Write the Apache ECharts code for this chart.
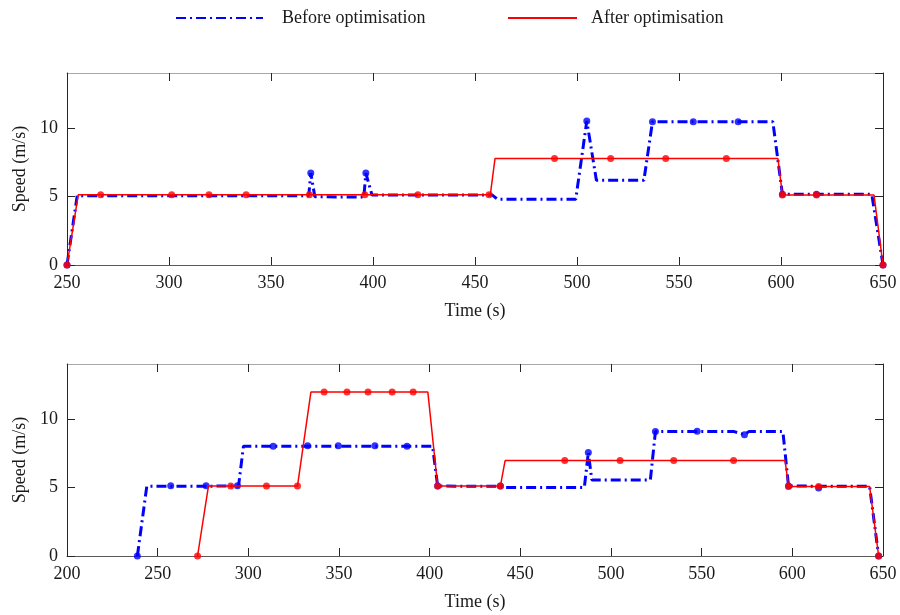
<!DOCTYPE html>
<html><head><meta charset="utf-8">
<script src="https://cdn.jsdelivr.net/npm/echarts@6/dist/echarts.min.js"></script>
<style>html,body{margin:0;padding:0;background:#fff}#c{width:900px;height:615px}</style>
</head><body><div id="c"></div>
<script>
// ---------- data ----------
const seriesNames = ['Before optimisation', 'After optimisation'];
const yTicks = [0, 5, 10];
const xRangeTop = [250, 650];
const xRangeBottom = [200, 650];

// Top panel
const beforeTopLine = [[250,0],[255,5.05],[368.5,5.05],[369.5,6.7],[371.5,4.98],[395.5,4.95],[396.5,6.7],[399.5,5.1],[458.5,5.1],[461,4.8],[499.4,4.8],[504.8,10.5],[509.5,6.18],[532.8,6.18],[537,10.45],[596,10.45],[600.7,5.15],[644.5,5.15],[650,0]];
const beforeTopMarks = [[250,0],[369.5,6.7],[396.5,6.7],[504.8,10.5],[537,10.45],[557,10.45],[579,10.45],[600.7,5.15],[617.4,5.15],[650,0]];
const afterTopLine = [[250,0],[255.5,5.12],[457.5,5.12],[459.8,7.76],[598.5,7.76],[600.7,5.1],[645.6,5.1],[650,0]];
const afterTopMarks = [[250,0],[266.5,5.12],[301.3,5.12],[319.6,5.12],[337.8,5.12],[368.8,5.12],[396,5.12],[422,5.12],[456.9,5.12],[489,7.76],[516.5,7.76],[543.5,7.76],[573.2,7.76],[600.7,5.1],[617.4,5.1],[650,0]];

// Bottom panel
const beforeBottomLine = [[238.8,0],[244,5.08],[294.6,5.1],[297.3,8.0],[401.6,8.0],[404.4,5.1],[439,5.08],[441,5.0],[485.3,5.0],[487.5,7.55],[489.4,5.55],[521.7,5.55],[524.5,9.07],[568,9.07],[573.6,8.85],[576,9.07],[594.8,9.07],[597.9,5.1],[642.6,5.08],[647.6,0]];
const beforeBottomMarks = [[238.8,0],[257.2,5.13],[276.7,5.13],[294,5.13],[313.7,8.0],[332.7,8.03],[349.6,8.03],[369.8,8.03],[387.5,8.0],[404.4,5.1],[439,5.1],[487.5,7.55],[524.5,9.07],[547.5,9.1],[573.6,8.85],[597.9,5.1],[614.5,4.95],[647.6,0]];
const afterBottomLine = [[272,0],[278,5.1],[327.1,5.1],[334.5,11.95],[399,11.95],[404.4,5.1],[439,5.1],[441.6,6.96],[596,6.96],[597.9,5.07],[642.6,5.07],[647.6,0]];
const afterBottomMarks = [[272,0],[290.3,5.1],[310,5.1],[327.1,5.1],[341.8,11.95],[354.4,11.95],[366,11.95],[379.3,11.95],[390.9,11.95],[404.4,5.1],[439,5.1],[474.5,6.96],[505,6.96],[534.6,6.96],[567.6,6.96],[597.9,5.07],[614.5,5.07],[647.6,0]];

// ---------- styling ----------
const FONT = "'Liberation Serif','Times New Roman',serif";
const BLUE = '#0000ff', RED = '#ff0000', DARK = '#262626';
const blueDash = [10, 4, 2, 4];

function xAxes(gi, range) {
  const base = {
    gridIndex: gi, type: 'value', min: range[0], max: range[1], interval: 50,
    splitLine: {show: false},
    axisTick: {inside: true, length: 8, lineStyle: {color: DARK, width: 1}}
  };
  return [
    Object.assign({}, base, {
      position: 'bottom',
      axisLine: {onZero: false, lineStyle: {color: '#5a5a5a', width: 1}},
      axisLabel: {color: '#1a1a1a', fontFamily: FONT, fontSize: 18, margin: 9},
      name: 'Time (s)', nameLocation: 'middle', nameGap: 37,
      nameTextStyle: {color: '#1a1a1a', fontFamily: FONT, fontSize: 18}
    }),
    Object.assign({}, base, {
      position: 'top',
      axisLine: {onZero: false, lineStyle: {color: '#a8a8a8', width: 1}},
      axisLabel: {show: false}
    })
  ];
}
function yAxes(gi) {
  const base = {
    gridIndex: gi, type: 'value', min: 0, max: 14, interval: 5,
    splitLine: {show: false},
    axisTick: {inside: true, length: 8, lineStyle: {color: DARK, width: 1}},
    axisLine: {show: true, onZero: false, lineStyle: {color: DARK, width: 1}}
  };
  return [
    Object.assign({}, base, {
      position: 'left',
      axisLabel: {color: '#1a1a1a', fontFamily: FONT, fontSize: 18, margin: 9, showMaxLabel: false,
        formatter: v => yTicks.indexOf(v) >= 0 ? String(v) : ''},
      name: 'Speed (m/s)', nameLocation: 'middle', nameGap: 38, nameRotate: 90,
      nameTextStyle: {color: '#1a1a1a', fontFamily: FONT, fontSize: 18}
    }),
    Object.assign({}, base, {position: 'right', axisLabel: {show: false}})
  ];
}

function lineSeries(name, data, xi, yi, color, dashed) {
  return {
    name: name, type: 'line', xAxisIndex: xi, yAxisIndex: yi, data: data,
    symbol: 'none', showSymbol: false, animation: false, z: dashed ? 2 : 4,
    lineStyle: {color: color, width: dashed ? 3 : 1.5, type: dashed ? blueDash : 'solid'},
    itemStyle: {color: color}
  };
}
function markSeries(data, xi, yi, color, z) {
  return {
    type: 'scatter', xAxisIndex: xi, yAxisIndex: yi, data: data,
    symbol: 'circle', symbolSize: 7, animation: false, z: z,
    itemStyle: {color: color}
  };
}

const legendText = {fontFamily: FONT, fontSize: 18, color: '#1a1a1a'};
const option = {
  backgroundColor: '#fff',
  animation: false,
  legend: [
    {data: [seriesNames[0]], left: 170, top: 4, itemWidth: 87, itemHeight: 16,
     itemStyle: {opacity: 0},
     textStyle: Object.assign({padding: [0,0,0,14]}, legendText)},
    {data: [seriesNames[1]], left: 502, top: 4, itemWidth: 69, itemHeight: 16,
     itemStyle: {opacity: 0},
     textStyle: Object.assign({padding: [0,0,0,9]}, legendText)}
  ],
  grid: [
    {left: 67, top: 73, width: 816, height: 192},
    {left: 67, top: 364, width: 816, height: 192}
  ],
  xAxis: xAxes(0, xRangeTop).concat(xAxes(1, xRangeBottom)),
  yAxis: yAxes(0).concat(yAxes(1)),
  series: [
    lineSeries(seriesNames[0], beforeTopLine, 0, 0, BLUE, true),
    markSeries(beforeTopMarks, 0, 0, BLUE, 3),
    lineSeries(seriesNames[1], afterTopLine, 0, 0, RED, false),
    markSeries(afterTopMarks, 0, 0, RED, 5),
    lineSeries(seriesNames[0], beforeBottomLine, 2, 2, BLUE, true),
    markSeries(beforeBottomMarks, 2, 2, BLUE, 3),
    lineSeries(seriesNames[1], afterBottomLine, 2, 2, RED, false),
    markSeries(afterBottomMarks, 2, 2, RED, 5)
  ]
};
const chart = echarts.init(document.getElementById('c'), null, {renderer: 'canvas'});
chart.setOption(option);
</script></body></html>
